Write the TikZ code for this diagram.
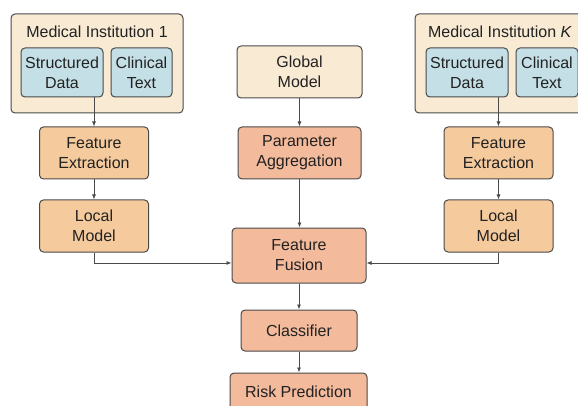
\documentclass[tikz,border=0pt]{standalone}
\usepackage{fontspec}
\setmainfont{Liberation Sans}
\usetikzlibrary{arrows.meta}

\definecolor{instfill}{HTML}{F8EAD3}
\definecolor{datafill}{HTML}{C4DFE6}
\definecolor{localfill}{HTML}{F5CA9C}
\definecolor{globfill}{HTML}{F3BA9C}
\definecolor{edgegray}{HTML}{4A4A4A}
\definecolor{txtgray}{HTML}{222222}

\tikzset{
	box/.style={draw=edgegray, line width=1pt, rounded corners=4pt, align=center, inner sep=0pt,
		text=txtgray, font=\fontsize{16}{20}\selectfont},
	instbox/.style={box, fill=instfill},
	databox/.style={box, fill=datafill},
	localbox/.style={box, fill=localfill, minimum width=109pt, minimum height=52pt},
	globbox/.style={box, fill=globfill},
	arr/.style={draw=edgegray, line width=0.8pt, -{Latex[length=5pt,width=4pt]}}
}

\begin{document}
\begin{tikzpicture}[x=1pt,y=-1pt]
	\useasboundingbox (0,0) rectangle (578,406);
	\clip (0,0) rectangle (578,406);

	% institution 1
	\node[instbox, minimum width=172pt, minimum height=99pt] (inst1) at (97,63.5) {};
	\node[text=txtgray, font=\fontsize{16}{20}\selectfont] (title1) at (97,32) {Medical Institution 1};
	\node[databox, minimum width=82pt, minimum height=49pt] (sd1) at (62,72.5) {Structured\\Data};
	\node[databox, minimum width=61pt, minimum height=49pt] (ct1) at (141.5,72.5) {Clinical\\Text};
	\node[localbox] (fe1) at (94,153) {Feature\\Extraction};
	\node[localbox] (lm1) at (94,226) {Local\\Model};

	% institution K
	\node[instbox, minimum width=174pt, minimum height=99pt] (instK) at (502,63.5) {};
	\node[text=txtgray, font=\fontsize{16}{20}\selectfont] (titleK) at (500,32) {Medical Institution \textit{K}};
	\node[databox, minimum width=82pt, minimum height=49pt] (sdK) at (467,72.5) {Structured\\Data};
	\node[databox, minimum width=62pt, minimum height=49pt] (ctK) at (547,72.5) {Clinical\\Text};
	\node[localbox] (feK) at (498.5,153) {Feature\\Extraction};
	\node[localbox] (lmK) at (498.5,226) {Local\\Model};

	% server side
	\node[instbox, minimum width=125pt, minimum height=52pt] (gm) at (299.5,72) {Global\\Model};
	\node[globbox, minimum width=123pt, minimum height=52pt] (pa) at (299.5,153) {Parameter\\Aggregation};
	\node[globbox, minimum width=134pt, minimum height=55pt] (ff) at (299,255.5) {Feature\\Fusion};
	\node[globbox, minimum width=116pt, minimum height=41pt] (cl) at (299,330.5) {Classifier};
	\node[globbox, minimum width=137pt, minimum height=38pt] (rp) at (298.5,392) {Risk Prediction};

	% connectors
	\draw[arr] (sd1.south -| fe1.north) -- (fe1.north);
	\draw[arr] (fe1) -- (lm1);
	\draw[arr] (sdK.south -| feK.north) -- (feK.north);
	\draw[arr] (feK) -- (lmK);
	\draw[arr] (lm1.south) |- ([yshift=-7.5pt]ff.west);
	\draw[arr] (lmK.south) |- ([yshift=-7.5pt]ff.east);
	\draw[arr] (gm) -- (pa);
	\draw[arr] (pa.south) -- (pa.south |- ff.north);
	\draw[arr] (ff.south -| cl.north) -- (cl.north);
	\draw[arr] (cl.south) -- (cl.south |- rp.north);
\end{tikzpicture}
\end{document}
